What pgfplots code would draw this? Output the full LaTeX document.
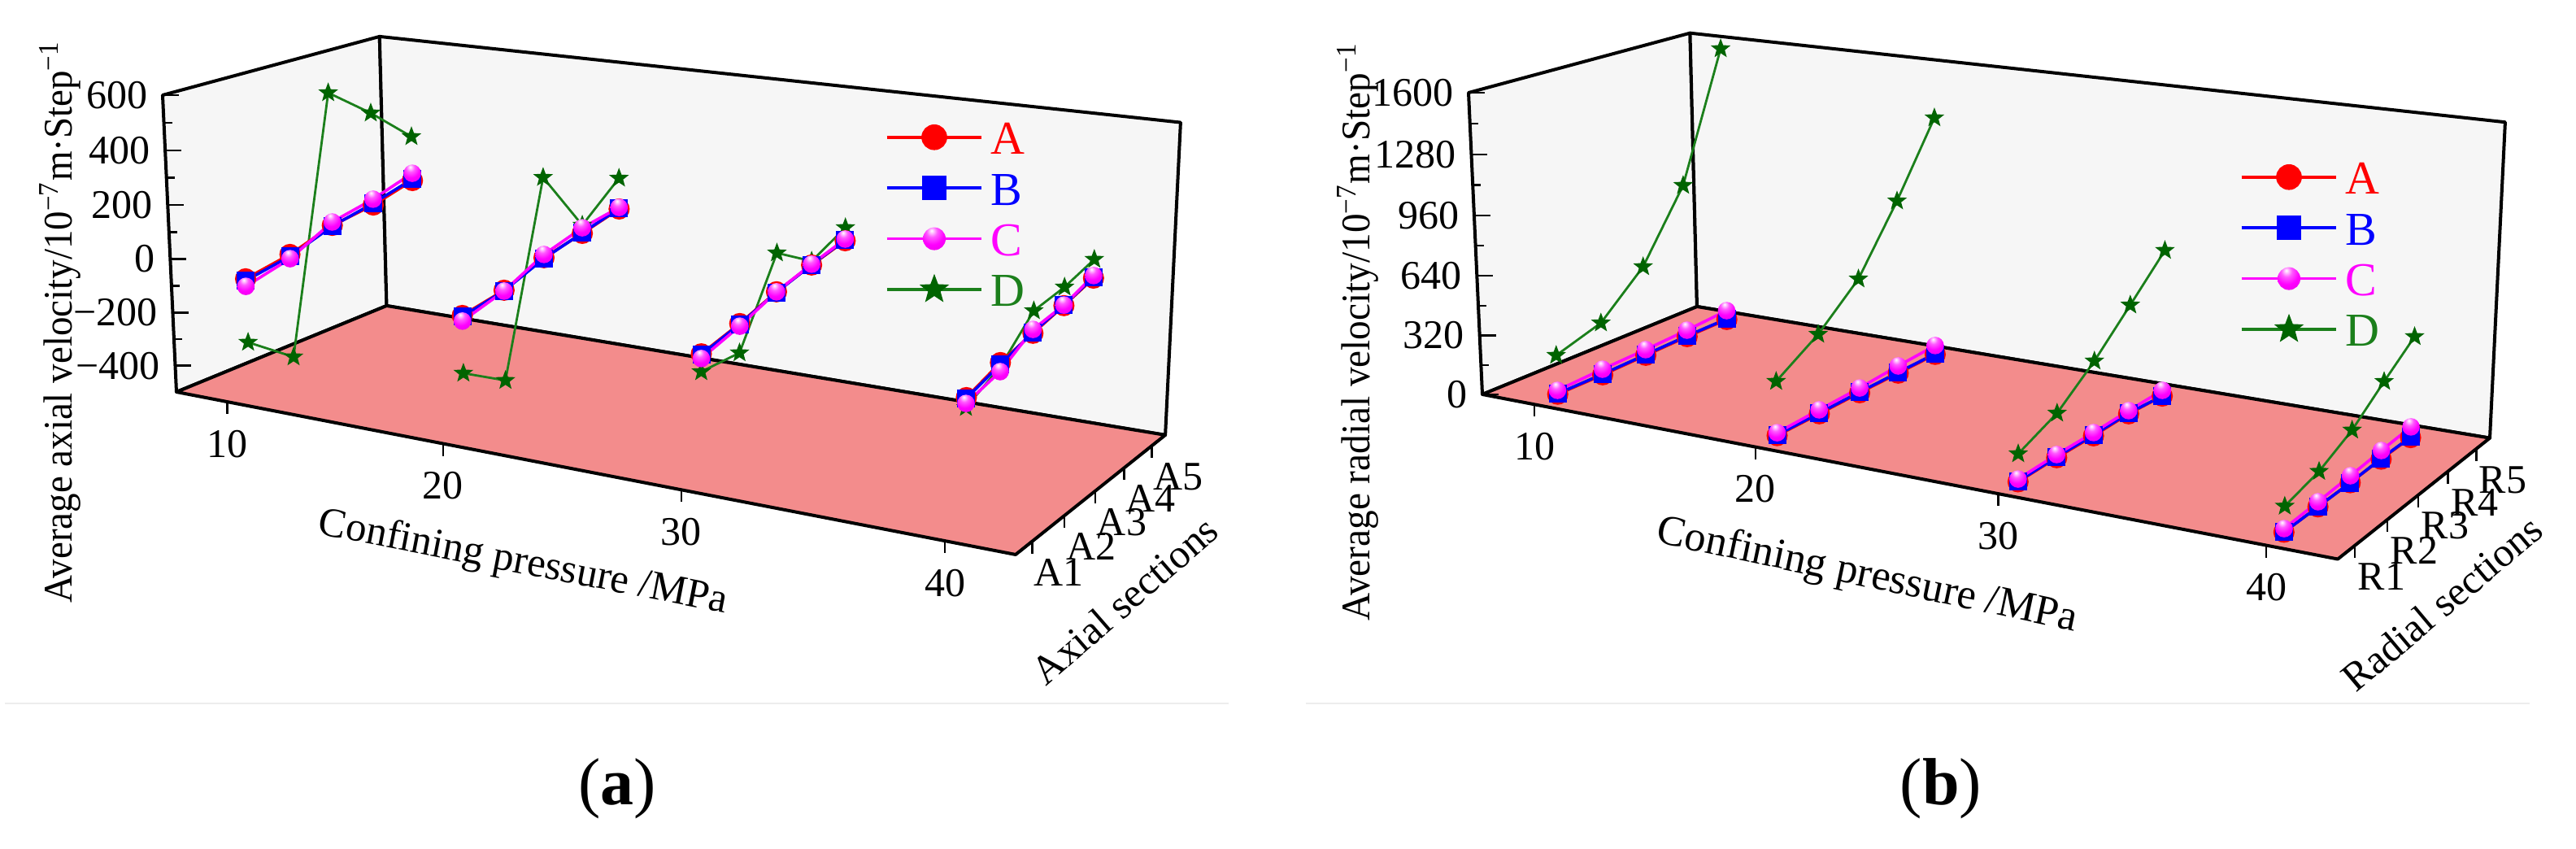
\documentclass[border=0pt]{standalone}
\usepackage{fontspec}
\setmainfont{Liberation Serif}
\usepackage{graphicx}
\usepackage{pgfplots}
\usepackage{pgfplotstable}
\pgfplotsset{compat=1.18}
\definecolor{wall}{HTML}{F6F6F6}
\definecolor{floorred}{HTML}{F38C8C}
\definecolor{sepgray}{HTML}{EDEDED}
\definecolor{dline}{HTML}{1B7F1B}
\definecolor{dmark}{HTML}{006400}
\definecolor{mag}{RGB}{255,0,255}
\definecolor{rd}{RGB}{255,0,0}
\definecolor{bl}{RGB}{0,0,255}
\newcommand{\lab}{\fontsize{12.5}{15}\selectfont}

% filled five pointed star
\pgfdeclareplotmark{fstar}{%
  \pgfpathmoveto{\pgfpointpolar{90}{\pgfplotmarksize}}
  \pgfpathlineto{\pgfpointpolar{126}{0.42*\pgfplotmarksize}}
  \pgfpathlineto{\pgfpointpolar{162}{\pgfplotmarksize}}
  \pgfpathlineto{\pgfpointpolar{198}{0.42*\pgfplotmarksize}}
  \pgfpathlineto{\pgfpointpolar{234}{\pgfplotmarksize}}
  \pgfpathlineto{\pgfpointpolar{270}{0.42*\pgfplotmarksize}}
  \pgfpathlineto{\pgfpointpolar{306}{\pgfplotmarksize}}
  \pgfpathlineto{\pgfpointpolar{342}{0.42*\pgfplotmarksize}}
  \pgfpathlineto{\pgfpointpolar{18}{\pgfplotmarksize}}
  \pgfpathlineto{\pgfpointpolar{54}{0.42*\pgfplotmarksize}}
  \pgfpathclose\pgfusepathqfill}

% magenta sphere, brighter than the stock ball mark
\pgfdeclareradialshading{magball}{\pgfpoint{-6bp}{18bp}}{%
  color(0bp)=(white); color(12bp)=(mag!65!white); color(26bp)=(mag);
  color(50bp)=(mag!88!black); color(66bp)=(mag!55!black); color(100bp)=(mag!55!black)}
\pgfdeclareplotmark{mball}{%
  \pgfpathcircle{\pgfpointorigin}{\pgfplotmarksize}
  \pgfshadepath{magball}{0}\pgfusepath{discard}}

% (a) axial velocity, section number in s, one column per confining pressure
\pgfplotstableread{
s p10 p20 p30 p40
1 -73 -76 -72 -72
2 -43 -50 -36 -29
3   9   7  10   0
4  31  38  43  28
5  73  73  71  60
}\axA
\pgfplotstableread{
s p10 p20 p30 p40
1 -80 -80 -75 -75
2 -50 -52 -38 -35
3   6   4   8   3
4  38  40  44  30
5  79  75  74  63
}\axB
\pgfplotstableread{
s p10 p20 p30 p40
1 -101 -96 -88 -91
2  -59 -53 -45 -59
3   22  19  10  13
4   54  59  46  30
5  102  79  77  69
}\axC
\pgfplotstableread{
s p10 p20 p30 p40
1 -311 -283 -133 -104
2 -436 -381 -138  -43
3  515  302  147   76
4  390   69   57   92
5  248  191  119  126
}\axD

% (b) radial velocity
\pgfplotstableread{
s p10 p20 p30 p40
1  2  3  0  0
2  4  8  6  0
3 11 14  6  0
4 18 17 12  3
5 20 20  0  1
}\raA
\pgfplotstableread{
s p10 p20 p30 p40
1  5  6  2  0
2  8 12 10  0
3 15 18 10  0
4 22 21 16  6
5 24 24  0  4
}\raB
\pgfplotstableread{
s p10 p20 p30 p40
1 23 18 14 17
2 35 29 22 25
3 43 40 23 35
4 55 57 29 47
5 72 70 31 57
}\raC
\pgfplotstableread{
s p10 p20 p30 p40
1  213  285 140 124
2  291  429 233 173
3  509  627 394 262
4  879  958 586 397
5 1574 1330 782 523
}\raD

% walls and floor of the two boxes
\pgfplotstableread{
p s z
7.5 0.5 -500
7.5 5.5 -500
7.5 5.5 600
7.5 0.5 600
}\axLeft
\pgfplotstableread{
p s z
7.5 5.5 -500
42.5 5.5 -500
42.5 5.5 600
7.5 5.5 600
}\axBack
\pgfplotstableread{
p s z
7.5 0.5 -500
42.5 0.5 -500
42.5 5.5 -500
7.5 5.5 -500
}\axFloor
\pgfplotstableread{
p s z
7.5 0.5 0
7.5 5.5 0
7.5 5.5 1600
7.5 0.5 1600
}\raLeft
\pgfplotstableread{
p s z
7.5 5.5 0
42.5 5.5 0
42.5 5.5 1600
7.5 5.5 1600
}\raBack
\pgfplotstableread{
p s z
7.5 0.5 0
42.5 0.5 0
42.5 5.5 0
7.5 5.5 0
}\raFloor

% ticks
\pgfplotstableread{
p s z lab
10 0.5 -500 10
20 0.5 -500 20
30 0.5 -500 30
40 0.5 -500 40
}\axXT
\pgfplotstableread{
p s z lab
42.5 1 -500 A1
42.5 2 -500 A2
42.5 3 -500 A3
42.5 4 -500 A4
42.5 5 -500 A5
}\axYT
\pgfplotstableread{
p s z lab
7.5 0.5 -400 −400
7.5 0.5 -200 −200
7.5 0.5 0 0
7.5 0.5 200 200
7.5 0.5 400 400
7.5 0.5 600 600
}\axZT
\pgfplotstableread{
p s z
7.5 0.5 -300
7.5 0.5 -100
7.5 0.5 100
7.5 0.5 300
7.5 0.5 500
}\axZM
\pgfplotstableread{
p s z lab
10 0.5 0 10
20 0.5 0 20
30 0.5 0 30
40 0.5 0 40
}\raXT
\pgfplotstableread{
p s z lab
42.5 1 0 R1
42.5 2 0 R2
42.5 3 0 R3
42.5 4 0 R4
42.5 5 0 R5
}\raYT
\pgfplotstableread{
p s z lab
7.5 0.5 0 0
7.5 0.5 320 320
7.5 0.5 640 640
7.5 0.5 960 960
7.5 0.5 1280 1280
7.5 0.5 1600 1600
}\raZT
\pgfplotstableread{
p s z
7.5 0.5 160
7.5 0.5 480
7.5 0.5 800
7.5 0.5 1120
7.5 0.5 1440
}\raZM

\pgfplotsset{
  table/proj/.style={
    x expr={fx(\thisrow{p},\thisrow{s},\thisrow{z})},
    y expr={fy(\thisrow{p},\thisrow{s},\thisrow{z})}},
  panel/.style={
    anchor=south west, scale only axis, width=396pt, height=261pt,
    ymin=0, ymax=1044, y dir=reverse, hide axis, clip=false,
    legend cell align=left,
    legend image code/.code={\draw[mark repeat=2,mark phase=2,##1]
      plot coordinates {(0pt,0pt)(14.6pt,0pt)(29.2pt,0pt)};},
  },
  legbox/.style={
    legend style={at={#1}, anchor=north west, draw=none, fill=none,
      font=\fontsize{14.5}{16}\selectfont, inner sep=0pt, row sep=5.1pt, column sep=2.2pt,
      nodes={inner sep=0pt, text height=10.5pt, text depth=0pt}}},
  boxface/.style={forget plot, line width=1pt, draw=black, line join=round},
  tickline/.style={forget plot, black, line width=0.6pt},
  ticktext/.style={forget plot, only marks, mark=none, point meta=explicit symbolic,
    nodes near coords, nodes near coords style={font=\lab, inner sep=0pt, #1}},
  serA/.style={forget plot, rd, line width=0.9pt, mark=*, mark size=2.8pt,
    mark options={fill=rd, draw=none}},
  serB/.style={forget plot, bl, line width=0.9pt, mark=square*, mark size=2.3pt,
    mark options={fill=bl, draw=none}},
  serC/.style={forget plot, mag, line width=0.9pt, mark=mball, mark size=2.7pt},
  serD/.style={forget plot, dline, line width=0.7pt, mark=fstar, mark size=3.2pt,
    mark options={fill=dmark, draw=none}},
  legA/.style={rd, line width=0.9pt, mark=*, mark size=3.5pt, mark options={fill=rd, draw=none}},
  legB/.style={bl, line width=0.9pt, mark=square*, mark size=3.3pt, mark options={fill=bl, draw=none}},
  legC/.style={mag, line width=0.9pt, mark=mball, mark size=3.5pt},
  legD/.style={dline, line width=0.9pt, mark=fstar, mark size=4.8pt, mark options={fill=dmark, draw=none}},
}

% one polyline per confining pressure
\newcommand{\groups}[2]{%
  \pgfplotsinvokeforeach{10,20,30,40}{%
    \addplot[#1] table[x expr={fx(##1,\thisrow{s},\thisrow{p##1})},
      y expr={fy(##1,\thisrow{s},\thisrow{p##1})}] {#2};}}

\begin{document}
\begin{tikzpicture}
\path[use as bounding box] (0,0) rectangle (792pt,261pt);

\begin{axis}[panel, at={(0,0)}, xmin=0, xmax=1584,
  declare function={
    uu(\p)=(\p-7.5)/35; vv(\s)=(\s-0.5)/5; ww(\z)=(\z+500)/1100;
    dd(\p,\s,\z)=1-0.1614*uu(\p)+0.1086*vv(\s)-0.0278*ww(\z);
    fx(\p,\s,\z)=(217+830.4*uu(\p)+310.1*vv(\s)-22.6*ww(\z))/dd(\p,\s,\z);
    fy(\p,\s,\z)=(482+89.9*uu(\p)-65.2*vv(\s)-368.25*ww(\z))/dd(\p,\s,\z);
  },
  legbox={(axis cs:1088,147)},
]
\addplot[boxface, fill=wall] table[proj] {\axLeft} -- cycle;
\addplot[boxface, fill=wall] table[proj] {\axBack} -- cycle;
\addplot[boxface, fill=floorred] table[proj] {\axFloor} -- cycle;

\addplot[tickline, quiver={u=0,v=15}] table[proj] {\axXT};
\addplot[tickline, quiver={u=0,v=15}] table[proj] {\axYT};
\addplot[tickline, quiver={u=20,v=0}] table[proj] {\axZT};
\addplot[tickline, quiver={u=10,v=0}] table[proj] {\axZM};
\addplot[ticktext={anchor=center, yshift=-13pt}] table[proj, meta=lab] {\axXT};
\addplot[ticktext={anchor=center, xshift=8.2pt, yshift=-9.5pt}] table[proj, meta=lab] {\axYT};
\addplot[ticktext={anchor=east, xshift=-4.5pt}] table[proj, meta=lab] {\axZT};

\addlegendimage{legA}\addlegendentry{\textcolor{rd}{A}}
\addlegendimage{legB}\addlegendentry{\textcolor{bl}{B}}
\addlegendimage{legC}\addlegendentry{\textcolor{mag}{C}}
\addlegendimage{legD}\addlegendentry{\textcolor{dline}{D}}

\groups{serD}{\axD}
\groups{serA}{\axA}
\groups{serB}{\axB}
\groups{serC}{\axC}

\node[font=\fontsize{12.7}{15}\selectfont, rotate=-11] at (axis cs:643,693) {Confining pressure /MPa};
\node[font=\lab, rotate=41] at (axis cs:1383,738) {Axial sections};
\node[font=\lab, rotate=90] at (axis cs:74,396) {\scalebox{0.94}[1]{Average axial velocity/10\textsuperscript{−7}m·Step\textsuperscript{−1}}};
\node[font=\fontsize{20.5}{22}\selectfont] at (axis cs:759,970) {(\textbf{a})};
\draw[sepgray, line width=0.4pt] (axis cs:6,865) -- (axis cs:1511,865);
\end{axis}

\begin{axis}[panel, at={(396pt,0)}, xmin=1584, xmax=3168,
  declare function={
    uu(\p)=(\p-7.5)/35; vv(\s)=(\s-0.5)/5; ww(\z)=\z/1600;
    dd(\p,\s,\z)=1-0.1564*uu(\p)+0.109*vv(\s)-0.0275*ww(\z);
    fx(\p,\s,\z)=(1823+602.4*uu(\p)+491.5*vv(\s)-66.7*ww(\z))/dd(\p,\s,\z);
    fy(\p,\s,\z)=(485+95*uu(\p)-66.9*vv(\s)-374.1*ww(\z))/dd(\p,\s,\z);
  },
  legbox={(axis cs:2754,196)},
]
\addplot[boxface, fill=wall] table[proj] {\raLeft} -- cycle;
\addplot[boxface, fill=wall] table[proj] {\raBack} -- cycle;
\addplot[boxface, fill=floorred] table[proj] {\raFloor} -- cycle;

\addplot[tickline, quiver={u=0,v=15}] table[proj] {\raXT};
\addplot[tickline, quiver={u=0,v=15}] table[proj] {\raYT};
\addplot[tickline, quiver={u=20,v=0}] table[proj] {\raZT};
\addplot[tickline, quiver={u=10,v=0}] table[proj] {\raZM};
\addplot[ticktext={anchor=center, yshift=-13pt}] table[proj, meta=lab] {\raXT};
\addplot[ticktext={anchor=center, xshift=8.2pt, yshift=-9.5pt}] table[proj, meta=lab] {\raYT};
\addplot[ticktext={anchor=east, xshift=-4.5pt}] table[proj, meta=lab] {\raZT};

\addlegendimage{legA}\addlegendentry{\textcolor{rd}{A}}
\addlegendimage{legB}\addlegendentry{\textcolor{bl}{B}}
\addlegendimage{legC}\addlegendentry{\textcolor{mag}{C}}
\addlegendimage{legD}\addlegendentry{\textcolor{dline}{D}}

\groups{serD}{\raD}
\groups{serA}{\raA}
\groups{serB}{\raB}
\groups{serC}{\raC}

\node[font=\fontsize{13.1}{15}\selectfont, rotate=-12] at (axis cs:2296,709) {Confining pressure /MPa};
\node[font=\lab, rotate=40] at (axis cs:3003,742) {Radial sections};
\node[font=\lab, rotate=90] at (axis cs:1670,408) {\scalebox{0.945}[1]{Average radial velocity/10\textsuperscript{−7}m·Step\textsuperscript{−1}}};
\node[font=\fontsize{20.5}{22}\selectfont] at (axis cs:2387,970) {(\textbf{b})};
\draw[sepgray, line width=0.4pt] (axis cs:1606,865) -- (axis cs:3111,865);
\end{axis}
\end{tikzpicture}
\end{document}
